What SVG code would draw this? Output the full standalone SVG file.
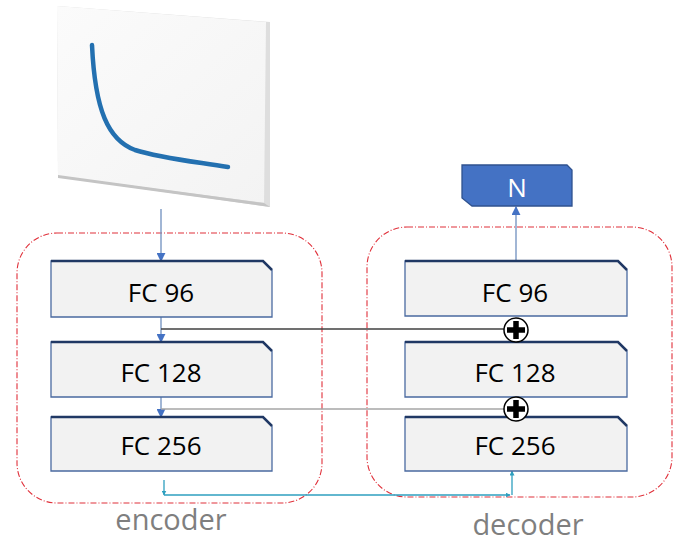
<svg xmlns="http://www.w3.org/2000/svg" width="683" height="545" viewBox="0 0 683 545">
<defs>
  <style>
    .box { fill: #f2f2f2; stroke: #4a6aa0; stroke-width: 1.3; }
    .boxtop { fill: none; stroke: #203864; stroke-width: 2.5; }
    .lbl { font-family: "Open Sans", "Noto Sans", "DejaVu Sans", sans-serif; font-size: 26px; fill: #000; text-anchor: middle; }
    .grp { fill: none; stroke: #e0303a; stroke-width: 1.1; stroke-dasharray: 6 2 1 2; }
    .cap { font-family: "Open Sans", "Noto Sans", "DejaVu Sans", sans-serif; font-size: 29px; fill: #7f7f7f; text-anchor: middle; }
    .arrow { stroke: #6f8fbf; stroke-width: 1.3; fill: none; }
    .teal { stroke: #2e9fbf; stroke-width: 1.3; fill: none; }
  </style>
  <marker id="ah" viewBox="0 0 10 10" refX="9" refY="5" markerWidth="9" markerHeight="9" markerUnits="userSpaceOnUse" orient="auto">
    <path d="M0,0 L10,5 L0,10 z" fill="#4472c4"/>
  </marker>
  <marker id="ahs" viewBox="0 0 10 10" refX="9" refY="5" markerWidth="5" markerHeight="5" markerUnits="userSpaceOnUse" orient="auto">
    <path d="M0,0 L10,5 L0,10 z" fill="#2e9fbf"/>
  </marker>
  <linearGradient id="pg" x1="0" y1="0" x2="1" y2="1">
    <stop offset="0" stop-color="#fbfbfb"/>
    <stop offset="1" stop-color="#f3f3f3"/>
  </linearGradient>
</defs>

<!-- picture panel -->
<g id="plot">
  <polygon points="57,6 270,22 270,207 58,177" fill="#d9d9d9"/>
  <polygon points="57,6 267,22 266,203 58,176" fill="url(#pg)"/>
  <polygon points="266,22 270,22 270,207 264,204" fill="#dedede"/>
  <polygon points="58,175 264,203 270,207 58,178" fill="#c4c4c4"/>
  <path d="M92,45 C95,110 108,140 135,150 C160,158 190,161 228,167" fill="none" stroke="#2370b0" stroke-width="4.5" stroke-linecap="round"/>
</g>

<!-- groups -->
<g id="encoder">
  <rect class="grp" x="17" y="233" width="305" height="270" rx="40"/>
  <text class="cap" x="171" y="530">encoder</text>
</g>
<g id="decoder">
  <rect class="grp" x="367" y="227" width="305" height="270" rx="40"/>
  <text class="cap" x="528" y="535">decoder</text>
</g>

<!-- connectors -->
<g id="connectors">
  <line class="arrow" x1="161" y1="209" x2="161" y2="261" marker-end="url(#ah)"/>
  <line class="arrow" x1="161" y1="317" x2="161" y2="342" marker-end="url(#ah)"/>
  <line class="arrow" x1="161" y1="397" x2="161" y2="417" marker-end="url(#ah)"/>
  <line x1="161" y1="329" x2="504" y2="329" stroke="#404040" stroke-width="1.3"/>
  <line x1="161" y1="409" x2="504" y2="409" stroke="#a6a6a6" stroke-width="1.3"/>
  <line class="arrow" x1="516" y1="261" x2="516" y2="207" marker-end="url(#ah)"/>
  <polyline class="teal" points="164,480 164,495" marker-end="url(#ahs)"/>
  <polyline class="teal" points="164,495 510,495" marker-end="url(#ahs)"/>
  <polyline class="teal" points="512,495 512,471" marker-end="url(#ahs)"/>
</g>

<!-- encoder nodes -->
<g id="enc-fc96">
  <path class="box" d="M51,261 H263 L272,270 V317 H51 Z"/>
  <path class="boxtop" d="M51,261 H263 L272,270"/>
  <text class="lbl" x="161" y="302">FC 96</text>
</g>
<g id="enc-fc128">
  <path class="box" d="M51,342 H263 L272,351 V397 H51 Z"/>
  <path class="boxtop" d="M51,342 H263 L272,351"/>
  <text class="lbl" x="161" y="382">FC 128</text>
</g>
<g id="enc-fc256">
  <path class="box" d="M51,417 H263 L272,426 V471 H51 Z"/>
  <path class="boxtop" d="M51,417 H263 L272,426"/>
  <text class="lbl" x="161" y="455">FC 256</text>
</g>

<!-- decoder nodes -->
<g id="dec-fc96">
  <path class="box" d="M405,261 H618 L627,270 V316 H405 Z"/>
  <path class="boxtop" d="M405,261 H618 L627,270"/>
  <text class="lbl" x="515" y="302">FC 96</text>
</g>
<g id="dec-fc128">
  <path class="box" d="M405,342 H618 L627,351 V397 H405 Z"/>
  <path class="boxtop" d="M405,342 H618 L627,351"/>
  <text class="lbl" x="515" y="382">FC 128</text>
</g>
<g id="dec-fc256">
  <path class="box" d="M405,417 H618 L627,426 V471 H405 Z"/>
  <path class="boxtop" d="M405,417 H618 L627,426"/>
  <text class="lbl" x="515" y="455">FC 256</text>
</g>

<!-- sum nodes -->
<g id="sum1">
  <circle cx="516" cy="330" r="12" fill="#fff" stroke="#000" stroke-width="1.5"/>
  <path d="M516,321 V339 M507,330 H525" stroke="#000" stroke-width="5.5"/>
</g>
<g id="sum2">
  <circle cx="516" cy="409" r="12" fill="#fff" stroke="#000" stroke-width="1.5"/>
  <path d="M516,400 V418 M507,409 H525" stroke="#000" stroke-width="5.5"/>
</g>

<!-- output node -->
<g id="out-n">
  <path d="M462,165 H567 L572,170 V206 H472 L462,198 Z" fill="#4472c4" stroke="#2f528f" stroke-width="1.3"/>
  <text x="517" y="197" font-family="Open Sans, Noto Sans, DejaVu Sans, sans-serif" font-size="26" fill="#fff" text-anchor="middle">N</text>
</g>
</svg>
